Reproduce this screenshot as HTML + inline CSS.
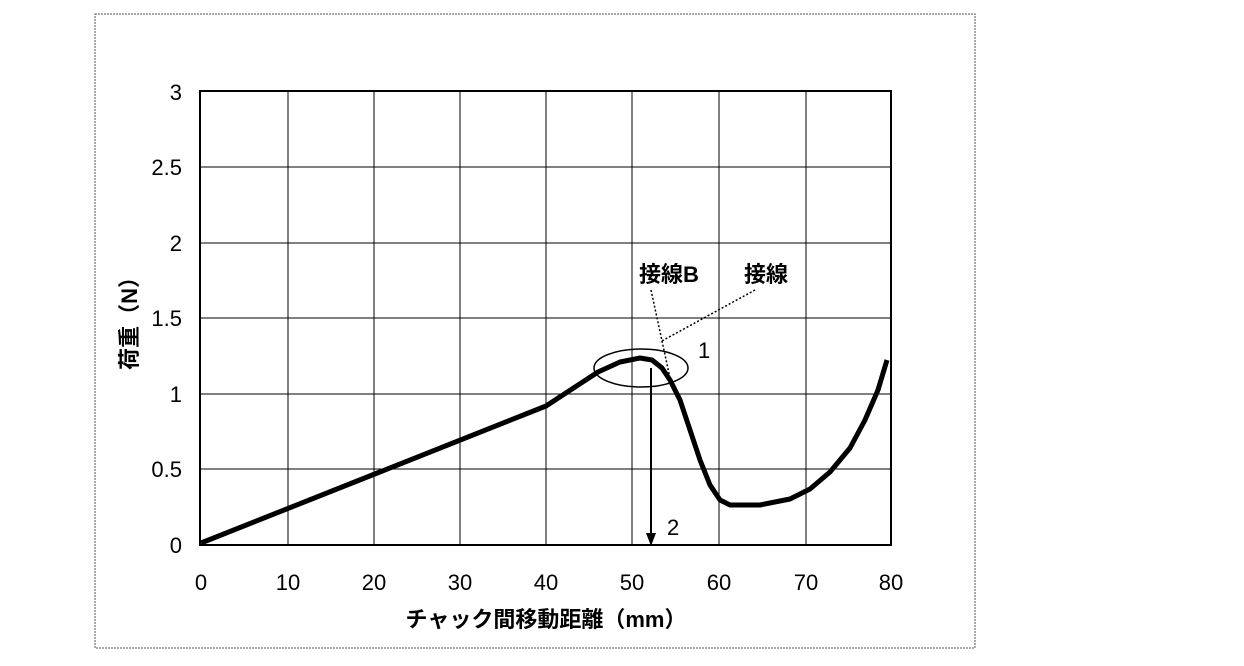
<!DOCTYPE html>
<html><head><meta charset="utf-8"><style>body{margin:0;background:#fff}</style></head><body>
<svg width="1244" height="661" xmlns="http://www.w3.org/2000/svg" font-family="Liberation Sans, Noto Sans CJK JP, sans-serif">
<rect x="95" y="14" width="880" height="634" fill="none" stroke="#555" stroke-width="1" stroke-dasharray="2,1"/>
<g stroke="#000" stroke-width="1">
<line x1="288" y1="90" x2="288" y2="545"/><line x1="374" y1="90" x2="374" y2="545"/><line x1="460" y1="90" x2="460" y2="545"/><line x1="546" y1="90" x2="546" y2="545"/><line x1="632" y1="90" x2="632" y2="545"/><line x1="719" y1="90" x2="719" y2="545"/><line x1="806" y1="90" x2="806" y2="545"/>
<line x1="200" y1="167" x2="891" y2="167"/><line x1="200" y1="243" x2="891" y2="243"/><line x1="200" y1="318" x2="891" y2="318"/><line x1="200" y1="394" x2="891" y2="394"/><line x1="200" y1="469" x2="891" y2="469"/>
</g>
<rect x="200" y="91" width="691" height="454" fill="none" stroke="#000" stroke-width="2"/>
<g font-size="22" text-anchor="end">
<text x="182" y="100">3</text><text x="182" y="175">2.5</text><text x="182" y="251">2</text><text x="182" y="326">1.5</text><text x="182" y="402">1</text><text x="182" y="477">0.5</text><text x="182" y="553">0</text>
</g>
<g font-size="22" text-anchor="middle">
<text x="201" y="590">0</text><text x="288" y="590">10</text><text x="374" y="590">20</text><text x="460" y="590">30</text><text x="546" y="590">40</text><text x="632" y="590">50</text><text x="719" y="590">60</text><text x="806" y="590">70</text><text x="891" y="590">80</text>
<text x="546" y="627" font-size="22" font-weight="bold">チャック間移動距離（mm）</text>
</g>
<text transform="translate(137,318) rotate(-90)" font-size="22" font-weight="bold" text-anchor="middle">荷重（N）</text>
<path d="M201,543 L546,406 L598,372 L620,362 L640,358 L652,360 L662,368 L670,380 L680,400 L690,430 L700,460 L710,485 L720,500 L730,505 L760,505 L790,499 L810,489 L830,472 L850,448 L865,420 L878,390 L887,360" fill="none" stroke="#000" stroke-width="5" stroke-linejoin="round"/>
<ellipse cx="641" cy="368" rx="47" ry="19" fill="none" stroke="#000" stroke-width="1.5"/>
<line x1="651" y1="368" x2="651" y2="535" stroke="#000" stroke-width="2"/>
<polygon points="646,533 656,533 651,546" fill="#000"/>
<line x1="651" y1="290" x2="670" y2="378" stroke="#000" stroke-width="1.5" stroke-dasharray="2,2"/>
<line x1="755" y1="290" x2="660" y2="342" stroke="#000" stroke-width="1.5" stroke-dasharray="2,2"/>
<g font-size="22" font-weight="bold">
<text x="639" y="282">接線B</text><text x="744" y="282">接線</text>
</g>
<text x="698" y="358" font-size="22">1</text>
<text x="667" y="535" font-size="22">2</text>
</svg>
</body></html>
